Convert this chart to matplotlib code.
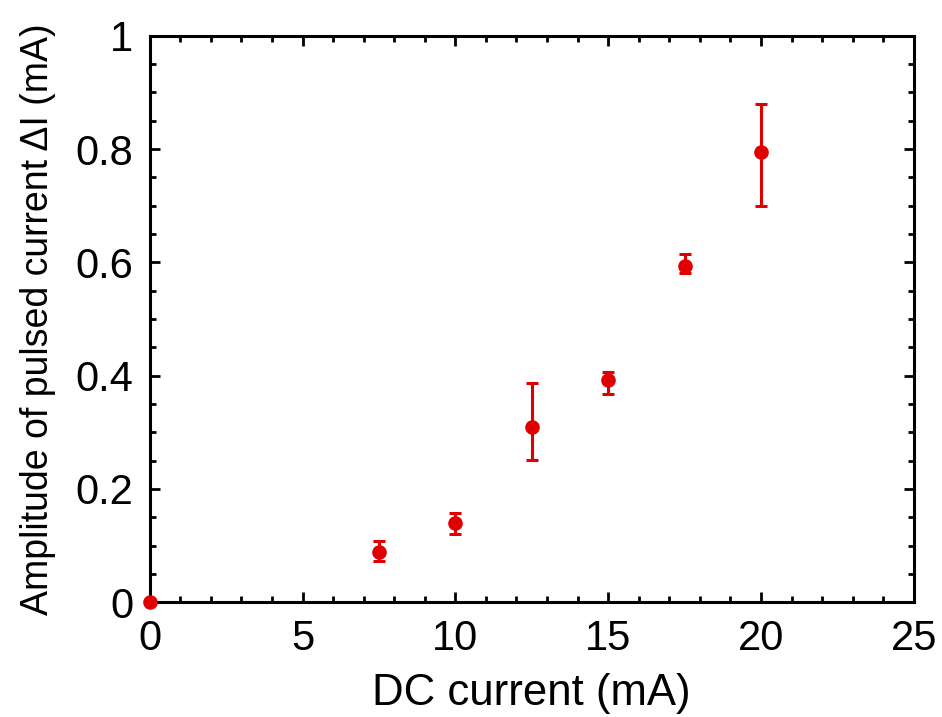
import matplotlib
matplotlib.use("Agg")
import matplotlib.pyplot as plt
from matplotlib.ticker import MultipleLocator, FuncFormatter

# DC current (mA) and pulsed current amplitude (mA)
dc_current = [0, 7.5, 10, 12.5, 15, 17.5, 20]
delta_i = [0.0, 0.089, 0.140, 0.310, 0.392, 0.594, 0.795]
err_low = [0.0, 0.017, 0.019, 0.058, 0.024, 0.013, 0.096]
err_high = [0.0, 0.020, 0.018, 0.078, 0.014, 0.021, 0.084]

red = "#e00000"

plt.rcParams['font.family'] = ['Liberation Sans', 'DejaVu Sans']

fig = plt.figure(figsize=(9.42, 7.17), dpi=100)
ax = fig.add_axes([0.159, 0.160, 0.811, 0.790])

eb = ax.errorbar(dc_current, delta_i, yerr=[err_low, err_high], fmt='o', color=red,
                 markersize=9.5, elinewidth=2.2, capsize=4.5, capthick=2.2, zorder=3)
eb.lines[0].set_clip_on(False)

ax.set_xlim(0, 25)
ax.set_ylim(0, 1)
ax.xaxis.set_major_locator(MultipleLocator(5))
ax.xaxis.set_minor_locator(MultipleLocator(1))
ax.yaxis.set_major_locator(MultipleLocator(0.2))
ax.yaxis.set_minor_locator(MultipleLocator(0.05))
ax.yaxis.set_major_formatter(FuncFormatter(lambda v, p: "%g" % round(v, 2)))

ax.tick_params(which='both', direction='in', top=True, right=True, width=2,
               labelsize=30, colors='black')
ax.tick_params(which='major', length=7.5, pad=12)
ax.tick_params(which='minor', length=4.5)
for s in ax.spines.values():
    s.set_linewidth(2.2)

ax.set_xlabel("DC current (mA)", fontsize=31.5, labelpad=10)
ax.set_ylabel("Amplitude of pulsed current \u0394I (mA)", fontsize=27, labelpad=14)

fig.savefig("out.png", dpi=100)
